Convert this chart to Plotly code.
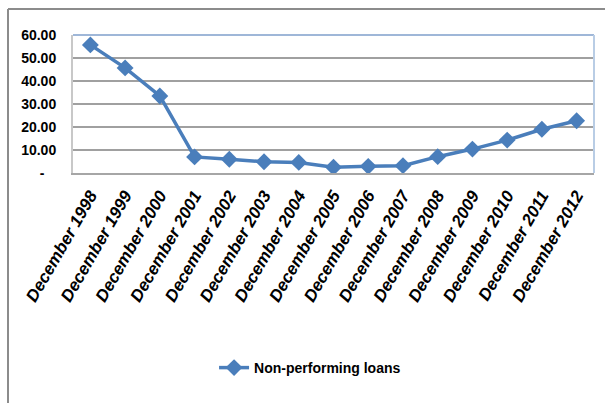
import plotly.graph_objects as go

categories = ["December 1998", "December 1999", "December 2000", "December 2001",
              "December 2002", "December 2003", "December 2004", "December 2005",
              "December 2006", "December 2007", "December 2008", "December 2009",
              "December 2010", "December 2011", "December 2012"]
npl_values = [55.7, 45.7, 33.5, 7.0, 6.0, 4.9, 4.6, 2.5, 2.9, 3.2, 7.1, 10.4, 14.3, 19.0, 22.7]
series_name = "Non-performing loans"
y_tickvals = [0, 10, 20, 30, 40, 50, 60]
y_ticktext = ["-\u00a0\u00a0\u00a0", "10.00", "20.00", "30.00", "40.00", "50.00", "60.00"]

BLUE = "#4A7EBB"
FONT = "Liberation Sans"

fig = go.Figure()
fig.add_trace(go.Scatter(
    x=categories, y=npl_values, name=series_name, mode="lines+markers",
    line=dict(color=BLUE, width=3.5),
    marker=dict(symbol="diamond", size=13, color=BLUE),
))

W, H = 605, 403
L, R, T, B = 73, 11, 35, 230
pw, ph = W - L - R, H - T - B

def px(x):
    return (x - L) / pw

def py(y):
    return (H - B - y) / ph

fig.update_layout(
    width=W, height=H,
    margin=dict(l=L, r=R, t=T, b=B, autoexpand=False),
    paper_bgcolor="white", plot_bgcolor="white",
    font=dict(family=FONT, color="black"),
    showlegend=True,
    legend=dict(x=0.455, xanchor="center", y=py(368), yanchor="middle",
                font=dict(family=FONT, size=14, color="black", weight="bold"),
                bgcolor="rgba(0,0,0,0)"),
    xaxis=dict(
        type="category", showgrid=False, showline=True, linecolor="#A6A6A6", linewidth=2,
        ticks="", tickangle=-60, ticklabelstandoff=4,
        tickfont=dict(family=FONT, size=17, color="black", weight="bold", style="italic"),
        automargin=False, range=[-0.5, 14.5],
    ),
    yaxis=dict(
        range=[0, 60], tickvals=y_tickvals, ticktext=y_ticktext,
        showgrid=True, gridcolor="#A0A0A0", gridwidth=1.5,
        showline=True, linecolor="#C8C8C8", linewidth=2, zeroline=False,
        ticks="", ticklabelstandoff=12,
        tickfont=dict(family=FONT, size=14, color="black", weight="bold"),
        automargin=False,
    ),
    shapes=[
        dict(type="line", xref="paper", yref="paper", x0=0, x1=1, y0=1, y1=1,
             line=dict(color="#7F9FCB", width=1.5), layer="above"),
        dict(type="line", xref="paper", yref="paper", x0=1, x1=1, y0=0, y1=1,
             line=dict(color="#B9CDE5", width=2), layer="above"),
        dict(type="line", xref="paper", yref="paper", x0=px(8), x1=px(605), y0=py(9), y1=py(9),
             line=dict(color="#8C8C8C", width=2)),
        dict(type="line", xref="paper", yref="paper", x0=px(8), x1=px(8), y0=py(9), y1=py(403),
             line=dict(color="#8C8C8C", width=2)),
    ],
)

fig.write_html("out.html")
